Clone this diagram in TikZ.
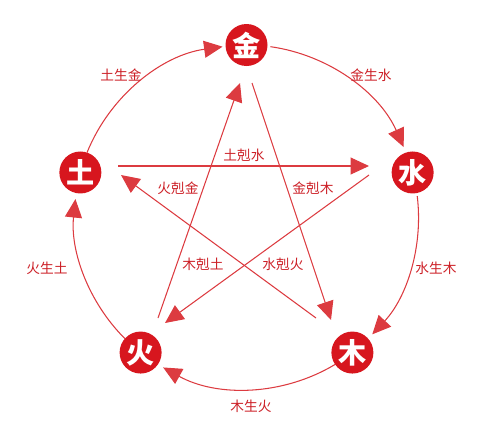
\documentclass[tikz,border=0pt]{standalone}
\usepackage{fontspec}
\newfontfamily\cjk{Noto Sans CJK SC}
\usepackage{tikz}
\usetikzlibrary{arrows.meta,calc}
\definecolor{wxred}{HTML}{D7161E}
\definecolor{linered}{HTML}{DC3B40}
\definecolor{textred}{HTML}{CC1F26}

\begin{document}
\begin{tikzpicture}[
  >={Triangle[length=0.37cm,width=0.34cm]},
  elem/.style={circle, fill=wxred, minimum size=0.84cm, inner sep=0pt, text=white, font=\cjk\fontsize{16}{16}\selectfont\bfseries},
  arrow/.style={->, line width=0.6pt, draw=linered},
  lbl/.style={font=\cjk\fontsize{7.8}{9}\selectfont, text=textred}
]
\useasboundingbox (0,0) rectangle (10,8.62);
\coordinate (c) at (4.93,4.28);
% generating cycle
\draw[arrow] ($(c)+(158:3.44)$) arc[start angle=158, end angle=98, radius=3.44];
\draw[arrow] ($(c)+(82:3.44)$) arc[start angle=82, end angle=24, radius=3.44];
\draw[arrow] ($(c)+(7:3.44)$) arc[start angle=7, end angle=-43, radius=3.44];
\draw[arrow] ($(c)+(-59:3.44)$) arc[start angle=-59, end angle=-119, radius=3.44];
\draw[arrow] ($(c)+(-135:3.44)$) arc[start angle=-135, end angle=-186, radius=3.44];
\node[elem] (jin) at ($(c)+(90:3.44)$) {金};
\node[elem] (shui) at ($(c)+(15:3.44)$) {水};
\node[elem] (mu) at ($(c)+(-52:3.44)$) {木};
\node[elem] (huo) at ($(c)+(-128:3.44)$) {火};
\node[elem] (tu) at ($(c)+(165:3.44)$) {土};
\node[lbl] (tujin) at (2.42,7.12) {土生金};
\node[lbl] (jinshui) at (7.42,7.12) {金生水};
\node[lbl] (shuimu) at (8.72,3.26) {水生木};
\node[lbl] (muhuo) at (5.02,0.50) {木生火};
\node[lbl] (huotu) at (0.94,3.26) {火生土};
% overcoming star
\coordinate (tu-out) at (2.36,5.30);
\coordinate (shui-in) at (7.38,5.30);
\coordinate (shui-out) at (7.38,5.12);
\coordinate (huo-in) at (3.30,2.16);
\coordinate (huo-out) at (3.16,2.26);
\coordinate (jin-in) at (4.80,6.96);
\coordinate (jin-out) at (5.04,6.96);
\coordinate (mu-in) at (6.62,2.22);
\coordinate (mu-out) at (6.32,2.26);
\coordinate (tu-in) at (2.42,5.12);
\draw[arrow] (tu-out) -- (shui-in);
\draw[arrow] (shui-out) -- (huo-in);
\draw[arrow] (huo-out) -- (jin-in);
\draw[arrow] (jin-out) -- (mu-in);
\draw[arrow] (mu-out) -- (tu-in);
\node[lbl] (tushui) at (4.88,5.52) {土剋水};
\node[lbl] (huojin) at (3.56,4.86) {火剋金};
\node[lbl] (jinmu) at (6.26,4.86) {金剋木};
\node[lbl] (mutu) at (4.06,3.34) {木剋土};
\node[lbl] (shuihuo) at (5.66,3.34) {水剋火};
\end{tikzpicture}
\end{document}
